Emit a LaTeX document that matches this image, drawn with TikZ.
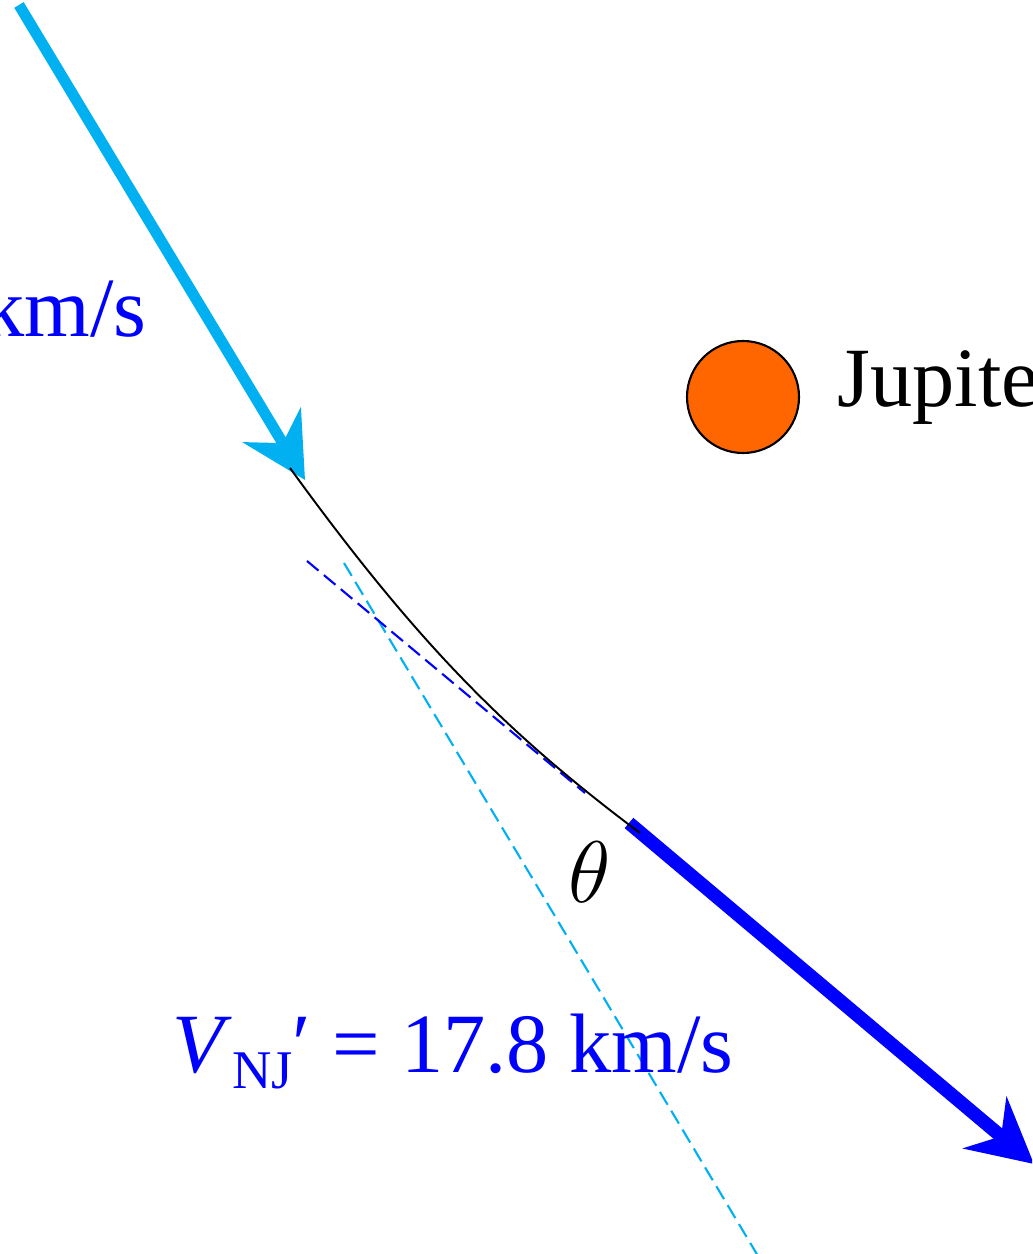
\documentclass[tikz,border=0pt]{standalone}
\usepackage{fontspec}
\setmainfont{Liberation Serif}
\usepackage{xcolor}
\usetikzlibrary{arrows.meta}
\definecolor{skyblue}{HTML}{00B0F0}
\definecolor{jorange}{HTML}{FF6600}

\begin{document}
\begin{tikzpicture}[scale=1,
    bigtip/.style={-{Stealth[length=0.64cm, width=0.67cm, inset=0.21cm]}},
    asym/.style={dash pattern=on 0.15cm off 0.07cm, line width=0.6pt},
    lbl/.style={font=\fontsize{24}{28}\selectfont, inner sep=0pt}]
\useasboundingbox (0,0) rectangle (10.32,-12.54);
\clip (0,0) rectangle (10.32,-12.54);

        % Define ends of the velocity arrows
        \coordinate (P1) at (0.19, -0.05);      % start of incoming
        \coordinate (P2) at (3.05, -4.80);      % tip of incoming
        \coordinate (Q1) at (6.29, -8.23);      % start of outgoing
        \coordinate (Q2) at (10.34, -11.64);    % tip of outgoing

        % Define ends of the asymptotes
        \coordinate (L1) at (3.44, -5.63);
        \coordinate (L2) at (7.58, -12.56);
        \coordinate (M1) at (3.07, -5.61);
        \coordinate (M2) at (5.85, -7.93);

        % Define ends of the path
        \coordinate (S1) at (2.90, -4.68);
        \coordinate (S2) at (6.40, -8.33);

        % Draw dashed asymptotes
        \draw[asym, skyblue] (L1) -- (L2);
        \draw[asym, blue] (M1) -- (M2);

        % Draw velocity arrows
        \draw[bigtip, line width=0.11cm, skyblue] (P1) -- (P2);
        \draw[bigtip, line width=0.135cm, blue] (Q1) -- (Q2);

        % Draw the path past the planet
        \draw[line width=0.55pt, black] (S1) .. controls (4.20, -6.474) and (5.10, -7.355) .. (S2);

 % Draw the planet and labels
        \node[circle, draw, line width=0.6pt, fill=jorange, minimum size=1.12cm, inner sep=0pt] (jup) at (7.43, -3.97) {};
        \node[lbl, anchor=base west] (jlabel) at (8.37, -4.07) {Jupite};
        \node[lbl] (theta) at (5.90, -8.72) {$\theta$};
        \node[lbl, text=blue, anchor=base east] (inlabel) at (1.47, -3.37) {km/s};
        \node[lbl, text=blue, anchor=base west] (outlabel) at (1.72, -10.72)
            {\textit{V}\raisebox{-0.16cm}{\fontsize{15.5}{16}\selectfont NJ}′ = 17.8 km/s};
    \end{tikzpicture}
\end{document}
